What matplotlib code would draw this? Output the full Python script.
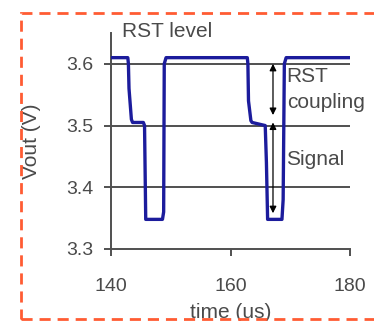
import matplotlib
matplotlib.use("Agg")
import matplotlib.pyplot as plt
from matplotlib.patches import Rectangle

plt.rcParams['font.family'] = ['Liberation Sans', 'DejaVu Sans']

# Waveform (time in us, Vout in V)
time_us = [140.0, 142.8, 142.9, 143.0, 143.4, 143.6, 145.4, 145.6, 145.8, 148.6, 148.8, 148.9, 149.2,
           162.8, 162.9, 163.0, 163.4, 163.6, 165.8, 166.0, 166.2, 168.6, 168.8, 169.0, 169.3, 180.0]
vout = [3.610, 3.610, 3.600, 3.560, 3.510, 3.505, 3.505, 3.500, 3.348, 3.348, 3.360, 3.600, 3.610,
        3.610, 3.600, 3.540, 3.508, 3.505, 3.500, 3.440, 3.348, 3.348, 3.380, 3.600, 3.610, 3.610]

x_ticks = [140, 160, 180]
y_ticks = [3.3, 3.4, 3.5, 3.6]
grid_levels = [3.4, 3.5, 3.6]

arrow_x = 167.1
coupling_span = (3.600, 3.517)
signal_span = (3.505, 3.358)

fig = plt.figure(figsize=(3.74, 3.21), dpi=100)
ax = fig.add_axes([0.297, 0.2243, 0.639, 0.673])

for lv in grid_levels:
    ax.axhline(lv, color='#505050', lw=1.4, zorder=1)

ax.plot(time_us, vout, color='#1c1c9c', lw=2.4, zorder=3)

ax.set_xlim(140, 180)
ax.set_ylim(3.3, 3.65)
ax.set_xticks(x_ticks)
ax.set_xticklabels([str(v) for v in x_ticks])
ax.set_yticks(y_ticks)
ax.set_yticklabels([f"{v:.1f}" for v in y_ticks])
for s in ['top', 'right']:
    ax.spines[s].set_visible(False)
for s in ['left', 'bottom']:
    ax.spines[s].set_color('#505050')
    ax.spines[s].set_linewidth(1.4)
ax.tick_params(axis='both', colors='#505050', labelcolor='#4a4a4a', labelsize=14, width=1.4, length=5)
ax.tick_params(axis='y', pad=8)
ax.tick_params(axis='x', pad=16)
ax.set_xlabel('time (us)', fontsize=15, color='#4a4a4a', labelpad=6)
ax.set_ylabel('Vout (V)', fontsize=15, color='#4a4a4a', labelpad=18)

# Annotation arrows
for y0, y1 in [coupling_span, signal_span]:
    ax.annotate('', xy=(arrow_x, y1), xytext=(arrow_x, y0),
                arrowprops=dict(arrowstyle='<|-|>', color='black', lw=0.9,
                                mutation_scale=10, shrinkA=0, shrinkB=0), zorder=4)

ax.text(141.8, 3.643, 'RST level', fontsize=15, color='#4a4a4a', va='baseline', clip_on=False)
ax.text(169.4, 3.571, 'RST', fontsize=15, color='#4a4a4a', va='baseline', clip_on=False)
ax.text(169.4, 3.528, 'coupling', fontsize=15, color='#4a4a4a', va='baseline', clip_on=False)
ax.text(169.3, 3.436, 'Signal', fontsize=15, color='#4a4a4a', va='baseline', clip_on=False)

# Orange dashed frame
frame = Rectangle((20.5 / 374, 1 - 319 / 321), 1.2, (319 - 12.5) / 321,
                  transform=fig.transFigure, fill=False, edgecolor='#ff5c33',
                  lw=2.0, linestyle=(0, (4, 2.5)), clip_on=False)
fig.patches.append(frame)

fig.savefig('out.png', dpi=100)
